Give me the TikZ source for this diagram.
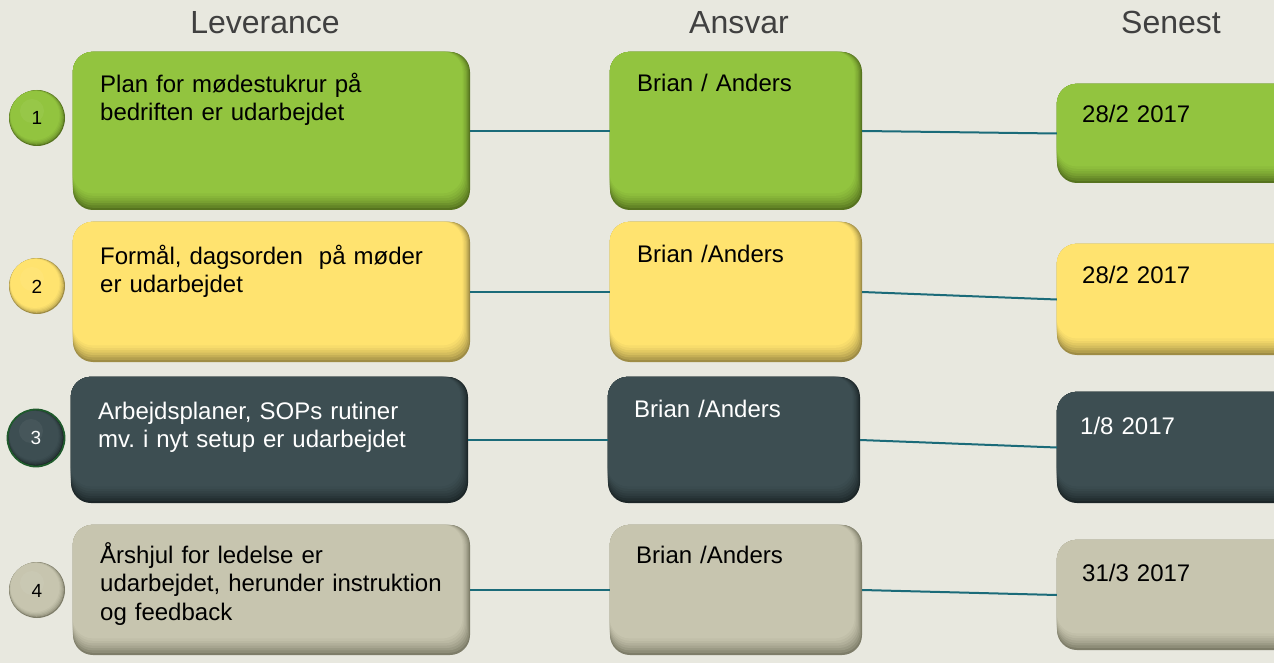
\documentclass[tikz,border=0pt]{standalone}
\usepackage{fontspec}
\setmainfont{Liberation Sans}
\usetikzlibrary{calc}
\frenchspacing

\definecolor{bg}{HTML}{E8E8DF}
\definecolor{grnM}{HTML}{92C43F}
\definecolor{grnD}{HTML}{56731F}
\definecolor{yelM}{HTML}{FFE36F}
\definecolor{yelD}{HTML}{9E8C45}
\definecolor{slaM}{HTML}{3D4E52}
\definecolor{slaD}{HTML}{1C2628}
\definecolor{begM}{HTML}{C7C5AF}
\definecolor{begD}{HTML}{7E7D69}
\definecolor{teal}{HTML}{1B6B79}
\definecolor{head}{HTML}{404040}
\definecolor{ringgreen}{HTML}{1F5A2C}

\tikzset{
  boxbase/.style={rectangle, rounded corners=20pt, inner sep=0pt, draw=none},
  bodytext/.style={anchor=base west, inner sep=0pt, text width=390pt, align=left,
    font=\fontsize{24}{28.5}\selectfont\frenchspacing},
  headtext/.style={anchor=base, inner sep=0pt, text=head, font=\fontsize{32}{36}\selectfont},
  numtext/.style={circle, inner sep=0pt, font=\fontsize{19}{21}\selectfont},
  link/.style={draw=teal, line width=2pt},
}

% bevelled rounded box: name, x0, y0, x1, y1, face colour, edge colour
\newcommand\bevbox[7]{%
  \node[boxbase, fill=#7, minimum width={#4-#2}, minimum height={#5-#3}]
    (#1) at ({(#2+#4)/2},{(#3+#5)/2}) {};
  \foreach \k/\p in {1/22,2/40,3/56,4/70,5/82,6/92,7/100}{%
    \fill[#6!\p!#7, rounded corners=20pt]
      (#1.north west) rectangle ($(#1.south east)+(-1.1*\k,-2.4*\k)$);
  }%
}

% shaded ball: x, y, radius, face, edge
\newcommand\numball[5]{%
  \fill[#5] (#1,#2) circle[radius=#3 pt];
  \foreach \k/\p in {1/45,2/65,3/80,4/92,5/100}{%
    \fill[#4!\p!#5] ($(#1,#2)+(-0.4*\k,-0.5*\k)$) circle[radius={(#3-0.7*\k)*1pt}];
  }%
  \fill[#4!80!white, opacity=0.25] ($(#1,#2)+(-5,-7)$) circle[radius=12pt];
}

\begin{document}
\begin{tikzpicture}[x=1pt, y=-1pt]
  \fill[bg] (0,0) rectangle (1274,663);
  \useasboundingbox (0,0) rectangle (1274,663);
  \clip (0,0) rectangle (1274,663);

  % column heads
  \node[headtext] (hL) at (265,34) {Leverance};
  \node[headtext] (hA) at (739,34) {Ansvar};
  \node[headtext] (hS) at (1171,34) {Senest};

  % row 1
  \bevbox{L1}{73}{52}{470}{210}{grnM}{grnD}
  \bevbox{M1}{610}{52}{862}{210}{grnM}{grnD}
  \bevbox{R1}{1057}{84}{1300}{183}{grnM}{grnD}
  \numball{37}{118}{28}{grnM}{grnD}
  \node[numtext, minimum size=56pt] (n1) at (37,118) {1};
  \node[bodytext] (t1) at (100,92.5) {Plan for mødestukrur på\\bedriften er udarbejdet};
  \node[bodytext] (a1) at (637,92) {Brian / Anders};
  \node[bodytext] (d1) at (1082,123) {28/2 2017};

  % row 2
  \bevbox{L2}{73}{222}{470}{362}{yelM}{yelD}
  \bevbox{M2}{610}{222}{862}{362}{yelM}{yelD}
  \bevbox{R2}{1057}{244}{1300}{355}{yelM}{yelD}
  \numball{37}{286}{28}{yelM}{yelD}
  \node[numtext, minimum size=56pt] (n2) at (37,287) {2};
  \node[bodytext] (t2) at (100,264) {Formål, dagsorden\ \ på møder\\er udarbejdet};
  \node[bodytext] (a2) at (637,262) {Brian /Anders};
  \node[bodytext] (d2) at (1082,283) {28/2 2017};

  % row 3
  \bevbox{L3}{71}{377}{468}{503}{slaM}{slaD}
  \bevbox{M3}{608}{377}{860}{503}{slaM}{slaD}
  \bevbox{R3}{1057}{392}{1300}{503}{slaM}{slaD}
  \numball{36}{438}{28}{slaM}{slaD}
  \node[numtext, minimum size=57pt, draw=ringgreen, line width=1.8pt, text=white] (n3) at (36,438) {3};
  \node[bodytext, text=white] (t3) at (98,419) {Arbejdsplaner, SOPs rutiner\\mv. i nyt setup er udarbejdet};
  \node[bodytext, text=white] (a3) at (634,417) {Brian /Anders};
  \node[bodytext, text=white] (d3) at (1080,434) {1/8 2017};

  % row 4
  \bevbox{L4}{73}{525}{470}{655}{begM}{begD}
  \bevbox{M4}{610}{525}{862}{655}{begM}{begD}
  \bevbox{R4}{1057}{540}{1300}{650}{begM}{begD}
  \numball{37}{590}{28}{begM}{begD}
  \node[numtext, minimum size=56pt] (n4) at (37,591) {4};
  \node[bodytext] (t4) at (100,563) {Årshjul for ledelse er\\udarbejdet, herunder instruktion\\og feedback};
  \node[bodytext] (a4) at (636,563) {Brian /Anders};
  \node[bodytext] (d4) at (1082,581) {31/3 2017};

  % connectors
  \foreach \r in {1,2,3,4}{
    \draw[link] (L\r.east) -- (M\r.west);
    \draw[link] (M\r.east) -- (R\r.west);
  }
\end{tikzpicture}
\end{document}
